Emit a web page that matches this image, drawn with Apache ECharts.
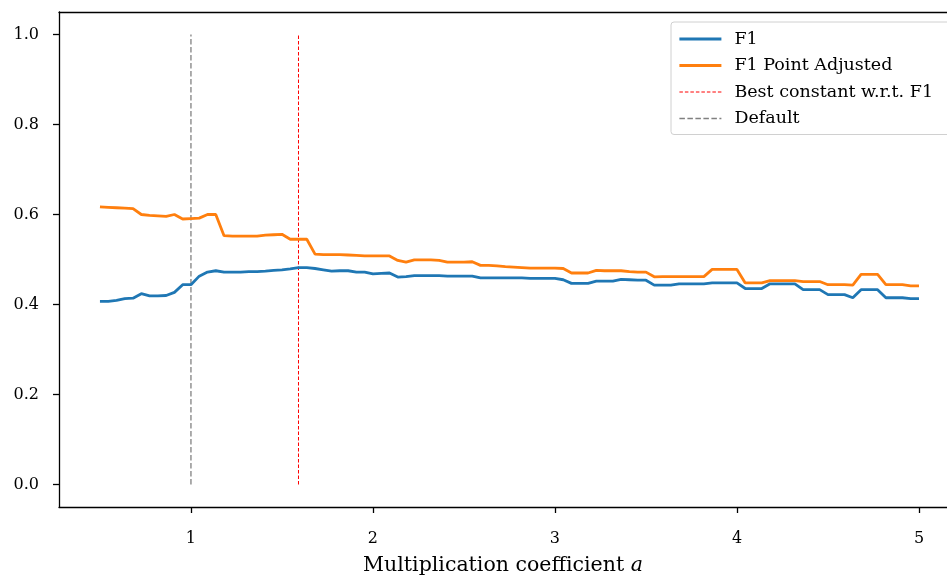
<!DOCTYPE html>
<html><head><meta charset="utf-8">
<script src="https://cdn.jsdelivr.net/npm/echarts@6/dist/echarts.min.js"></script>
<style>html,body{margin:0;padding:0;background:#fff}#c{width:947px;height:577px}</style>
</head><body><div id="c"></div>
<script>
const xValues = [
0.5,0.5455,0.5909,0.6364,0.6818,0.7273,0.7727,0.8182,0.8636,0.9091,0.9545,
1.0,1.0455,1.0909,1.1364,1.1818,1.2273,1.2727,1.3182,1.3636,1.4091,1.4545,
1.5,1.5455,1.5909,1.6364,1.6818,1.7273,1.7727,1.8182,1.8636,1.9091,1.9545,
2.0,2.0455,2.0909,2.1364,2.1818,2.2273,2.2727,2.3182,2.3636,2.4091,2.4545,
2.5,2.5455,2.5909,2.6364,2.6818,2.7273,2.7727,2.8182,2.8636,2.9091,2.9545,
3.0,3.0455,3.0909,3.1364,3.1818,3.2273,3.2727,3.3182,3.3636,3.4091,3.4545,
3.5,3.5455,3.5909,3.6364,3.6818,3.7273,3.7727,3.8182,3.8636,3.9091,3.9545,
4.0,4.0455,4.0909,4.1364,4.1818,4.2273,4.2727,4.3182,4.3636,4.4091,4.4545,
4.5,4.5455,4.5909,4.6364,4.6818,4.7273,4.7727,4.8182,4.8636,4.9091,4.9545,
5.0];
const f1 = [
0.407,0.407,0.409,0.413,0.414,0.424,0.419,0.419,0.420,0.427,0.444,
0.444,0.463,0.472,0.475,0.472,0.472,0.472,0.473,0.473,0.474,0.476,
0.477,0.479,0.482,0.482,0.480,0.477,0.474,0.475,0.475,0.472,0.472,
0.468,0.469,0.470,0.461,0.462,0.464,0.464,0.464,0.464,0.463,0.463,
0.463,0.463,0.459,0.459,0.459,0.459,0.459,0.459,0.458,0.458,0.458,
0.458,0.455,0.447,0.447,0.447,0.452,0.452,0.452,0.456,0.455,0.454,
0.454,0.443,0.443,0.443,0.446,0.446,0.446,0.446,0.448,0.448,0.448,
0.448,0.4355,0.4355,0.4355,0.446,0.446,0.446,0.446,0.433,0.433,0.433,
0.422,0.422,0.422,0.415,0.433,0.433,0.433,0.415,0.415,0.415,0.413,
0.413];
const f1PointAdjusted = [
0.617,0.616,0.615,0.614,0.613,0.600,0.598,0.597,0.596,0.600,0.590,
0.591,0.592,0.600,0.600,0.553,0.552,0.552,0.552,0.552,0.554,0.555,
0.556,0.545,0.545,0.545,0.512,0.511,0.511,0.511,0.510,0.509,0.508,
0.508,0.508,0.508,0.498,0.494,0.499,0.499,0.499,0.498,0.494,0.494,
0.494,0.495,0.487,0.487,0.486,0.484,0.483,0.482,0.481,0.481,0.481,
0.481,0.480,0.470,0.470,0.470,0.476,0.475,0.475,0.475,0.473,0.472,
0.472,0.4615,0.462,0.462,0.462,0.462,0.462,0.462,0.478,0.478,0.478,
0.478,0.448,0.448,0.448,0.453,0.453,0.453,0.453,0.451,0.451,0.451,
0.444,0.444,0.444,0.443,0.467,0.467,0.467,0.444,0.444,0.444,0.4415,
0.4415];
const bestConstant = 1.5909;
const defaultValue = 1.0;
const vLineY = [0, 1];
const xTicks = [1, 2, 3, 4, 5];
const yTicks = [0, 0.2, 0.4, 0.6, 0.8, 1.0];
const seriesNames = ['F1', 'F1 Point Adjusted', 'Best constant w.r.t. F1', 'Default'];

const FONT = 'DejaVu Serif';
const X_MIN = 0.275, X_MAX = 5.154;
const chart = echarts.init(document.getElementById('c'), null, {renderer: 'canvas'});
const pair = (xs, ys) => xs.map((x, i) => [x, ys[i]]);
const spine = {show: true, onZero: false, lineStyle: {color: '#000', width: 1.3}};
const lineW = [2.8, 2.8, 1, 1.3];
chart.setOption({
  animation: false,
  backgroundColor: '#fff',
  grid: {left: 59, top: 12, right: 0, bottom: 70, show: false, outerBoundsMode: 'none', containLabel: false},
  legend: {
    left: 671, top: 22, orient: 'vertical',
    padding: [8, 40, 7, 7], itemGap: 8.5, itemWidth: 42, itemHeight: 19,
    backgroundColor: 'rgba(255,255,255,0.8)', borderColor: '#d0d0d0', borderWidth: 1, borderRadius: 3,
    itemStyle: {opacity: 0},
    textStyle: {fontFamily: FONT, fontSize: 17.5, color: '#000', padding: [0, 0, 0, 8]},
    data: seriesNames.map((n, i) => ({name: n, lineStyle: {width: lineW[i]}}))
  },
  xAxis: [{
    type: 'value', min: X_MIN, max: X_MAX, position: 'bottom',
    axisLine: spine,
    axisTick: {show: true, length: 6, lineStyle: {color: '#000', width: 1.3}, customValues: xTicks},
    axisLabel: {fontFamily: FONT, fontSize: 16, color: '#000', margin: 24, customValues: xTicks, formatter: v => String(v)},
    splitLine: {show: false},
    name: 'Multiplication coefficient {i|a}', nameLocation: 'middle', nameGap: 48,
    nameTextStyle: {fontFamily: FONT, fontSize: 20.5, color: '#000', rich: {i: {fontFamily: FONT, fontStyle: 'italic', fontSize: 20.5}}}
  }, {
    type: 'value', min: X_MIN, max: X_MAX, position: 'top',
    axisLine: spine, axisTick: {show: false}, axisLabel: {show: false}, splitLine: {show: false}
  }],
  yAxis: {
    type: 'value', min: -0.05, max: 1.05,
    axisLine: spine,
    axisTick: {show: true, length: 6, lineStyle: {color: '#000', width: 1.3}, customValues: yTicks},
    axisLabel: {fontFamily: FONT, fontSize: 16, color: '#000', margin: 20, customValues: yTicks, formatter: v => v.toFixed(1)},
    splitLine: {show: false}
  },
  series: [
    {name: seriesNames[0], type: 'line', data: pair(xValues, f1), symbol: 'none', lineStyle: {color: '#1f77b4', width: lineW[0]}, itemStyle: {color: '#1f77b4'}, z: 3},
    {name: seriesNames[1], type: 'line', data: pair(xValues, f1PointAdjusted), symbol: 'none', lineStyle: {color: '#ff7f0e', width: lineW[1]}, itemStyle: {color: '#ff7f0e'}, z: 3},
    {name: seriesNames[2], type: 'line', data: vLineY.map(y => [bestConstant, y]), symbol: 'none', lineStyle: {color: '#ff0000', width: lineW[2], type: [3.5, 2]}, itemStyle: {color: '#ff0000'}, z: 2},
    {name: seriesNames[3], type: 'line', data: vLineY.map(y => [defaultValue, y]), symbol: 'none', lineStyle: {color: '#808080', width: lineW[3], type: [5.5, 2.5]}, itemStyle: {color: '#808080'}, z: 2}
  ]
});
</script></body></html>
